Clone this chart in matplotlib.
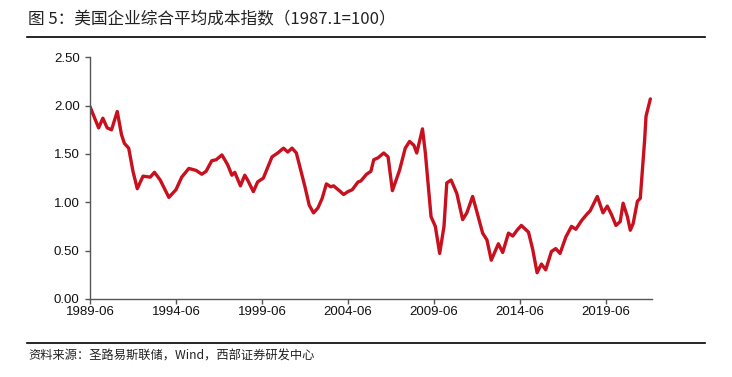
import matplotlib.pyplot as plt
import matplotlib.dates as mdates
import pandas as pd

plt.rcParams['font.family'] = ['Liberation Sans', 'Noto Sans CJK SC', 'DejaVu Sans']

# Data (month, index value)
months = [
    "1989-06", "1989-12", "1990-03", "1990-06", "1990-09", "1991-01", "1991-04",
    "1991-06", "1991-09", "1991-12", "1992-03", "1992-07", "1992-12", "1993-03",
    "1993-07", "1994-01", "1994-06", "1994-10", "1995-03", "1995-08", "1995-12",
    "1996-03", "1996-07", "1996-10", "1997-02", "1997-06", "1997-09", "1997-11",
    "1998-03", "1998-06", "1998-08", "1998-12", "1999-03", "1999-07", "2000-01",
    "2000-05", "2000-09", "2000-12", "2001-03", "2001-06", "2001-12", "2002-03",
    "2002-06", "2002-09", "2002-12", "2003-03", "2003-06", "2003-08", "2003-12",
    "2004-03", "2004-06", "2004-09", "2005-01", "2005-03", "2005-07", "2005-10",
    "2005-12", "2006-03", "2006-07", "2006-10", "2007-01", "2007-06", "2007-10",
    "2008-01", "2008-04", "2008-06", "2008-10", "2008-12", "2009-04", "2009-07",
    "2009-10", "2010-01", "2010-03", "2010-06", "2010-10", "2011-02", "2011-05",
    "2011-09", "2011-12", "2012-04", "2012-07", "2012-10", "2013-03", "2013-06",
    "2013-10", "2014-01", "2014-04", "2014-07", "2014-12", "2015-03", "2015-06",
    "2015-09", "2015-12", "2016-04", "2016-07", "2016-10", "2017-02", "2017-06",
    "2017-09", "2018-01", "2018-05", "2018-07", "2018-12", "2019-04", "2019-07",
    "2019-10", "2020-01", "2020-04", "2020-06", "2020-09", "2020-11", "2021-01",
    "2021-04", "2021-06", "2021-09", "2021-10", "2022-01",
]
values = [
    1.99, 1.77, 1.87, 1.77, 1.75, 1.94, 1.70,
    1.61, 1.56, 1.32, 1.14, 1.27, 1.26, 1.31,
    1.23, 1.05, 1.13, 1.26, 1.35, 1.33, 1.29,
    1.32, 1.43, 1.44, 1.49, 1.39, 1.28, 1.31,
    1.17, 1.28, 1.23, 1.11, 1.21, 1.25, 1.47,
    1.51, 1.56, 1.52, 1.56, 1.51, 1.16, 0.97,
    0.89, 0.94, 1.04, 1.19, 1.16, 1.17, 1.12,
    1.08, 1.11, 1.13, 1.21, 1.22, 1.29, 1.32,
    1.44, 1.46, 1.51, 1.47, 1.12, 1.33, 1.56,
    1.63, 1.59, 1.51, 1.76, 1.51, 0.85, 0.75,
    0.47, 0.75, 1.20, 1.23, 1.09, 0.82, 0.89,
    1.06, 0.90, 0.68, 0.61, 0.40, 0.57, 0.48,
    0.68, 0.65, 0.71, 0.76, 0.69, 0.51, 0.27,
    0.36, 0.30, 0.49, 0.52, 0.47, 0.64, 0.75,
    0.72, 0.81, 0.88, 0.91, 1.06, 0.89, 0.96,
    0.87, 0.76, 0.80, 0.99, 0.85, 0.71, 0.78,
    1.01, 1.04, 1.64, 1.89, 2.07,
]
tick_labels = ["1989-06", "1994-06", "1999-06", "2004-06", "2009-06", "2014-06", "2019-06"]
y_ticks = [0.0, 0.5, 1.0, 1.5, 2.0, 2.5]

dates = pd.to_datetime(months)
tick_dates = pd.to_datetime(tick_labels)

fig = plt.figure(figsize=(7.32, 3.77), dpi=100)
ax = fig.add_axes([90 / 732, 78.2 / 377, 562 / 732, 241.4 / 377])

ax.plot(dates, values, color="#C8101F", linewidth=2.4,
        solid_joinstyle="round", solid_capstyle="round")

ax.set_xlim(pd.Timestamp("1989-06-01"), pd.Timestamp("2022-02-05"))
ax.set_ylim(0, 2.5)
ax.set_xticks(tick_dates)
ax.set_xticklabels(tick_labels)
ax.set_yticks(y_ticks)
ax.set_yticklabels([f"{v:.2f}" for v in y_ticks])

for side in ["top", "right"]:
    ax.spines[side].set_visible(False)
for side in ["left", "bottom"]:
    ax.spines[side].set_color("#555555")
    ax.spines[side].set_linewidth(1.0)
ax.tick_params(axis="both", direction="out", length=3.5, width=1.0,
               color="#555555", labelsize=9.5, labelcolor="#111111")
ax.tick_params(axis="x", pad=2)
ax.tick_params(axis="y", pad=4)

# Title, rules and source note
fig.text(28 / 732, 1 - 20 / 377, "图 5：美国企业综合平均成本指数（1987.1=100）",
         fontsize=12, va="center", ha="left", color="#222222",
         family=["Noto Sans CJK SC", "DejaVu Sans"])
fig.add_artist(plt.Line2D([27 / 732, 705 / 732], [1 - 37.3 / 377] * 2,
                          color="black", linewidth=1.2))
fig.add_artist(plt.Line2D([27 / 732, 705 / 732], [1 - 343 / 377] * 2,
                          color="black", linewidth=1.2))
fig.text(28 / 732, 1 - 356 / 377, "资料来源：圣路易斯联储，Wind，西部证券研发中心",
         fontsize=8.8, va="center", ha="left", color="#222222",
         family=["Noto Sans CJK SC", "DejaVu Sans"])

plt.savefig("out.png", dpi=100)
